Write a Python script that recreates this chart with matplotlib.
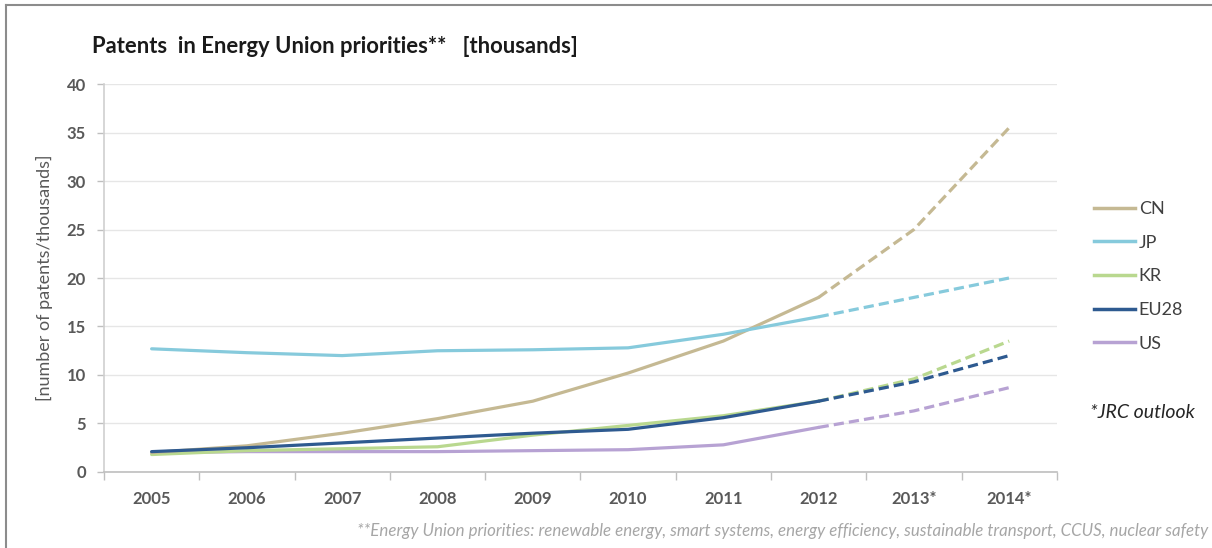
"""Patents in Energy Union priorities, 2005-2014 (JRC outlook for 2013-14)."""

import matplotlib
matplotlib.use("Agg")
import matplotlib.pyplot as plt
from matplotlib.lines import Line2D

plt.rcParams["font.family"] = ["Lato", "DejaVu Sans"]

YEARS = ["2005", "2006", "2007", "2008", "2009", "2010", "2011", "2012", "2013*", "2014*"]
SERIES = ["CN", "JP", "KR", "EU28", "US"]

CN = [2.0, 2.7, 4.0, 5.5, 7.3, 10.2, 13.5, 18.0, 25.0, 35.5]
JP = [12.7, 12.3, 12.0, 12.5, 12.6, 12.8, 14.2, 16.0, 18.0, 20.0]
KR = [1.8, 2.2, 2.4, 2.6, 3.8, 4.8, 5.8, 7.3, 9.6, 13.5]
EU28 = [2.1, 2.5, 3.0, 3.5, 4.0, 4.4, 5.6, 7.3, 9.3, 12.0]
US = [2.0, 2.1, 2.1, 2.1, 2.2, 2.3, 2.8, 4.6, 6.3, 8.7]

COLORS = {
    "CN": "#c5b993",
    "JP": "#86cadc",
    "KR": "#b9d88f",
    "EU28": "#2e5a90",
    "US": "#b7a2d3",
}

# index of last observed year; outlook is dashed from here on
SPLIT = 7


def main() -> None:
    fig = plt.figure(figsize=(12.12, 5.48), dpi=100)
    ax = fig.add_axes([0.0858, 0.1387, 0.7862, 0.708])

    x = list(range(len(YEARS)))
    values = {"CN": CN, "JP": JP, "KR": KR, "EU28": EU28, "US": US}
    # draw back to front so EU28 sits on top like the source
    for name in ["US", "KR", "CN", "JP", "EU28"]:
        y = values[name]
        c = COLORS[name]
        ax.plot(x[: SPLIT + 1], y[: SPLIT + 1], color=c, lw=2.3,
                solid_capstyle="round")
        ax.plot(x[SPLIT:], y[SPLIT:], color=c, lw=2.3, ls=(0, (3.2, 1.6)))

    ax.set_xlim(-0.5, len(YEARS) - 0.5)
    ax.set_ylim(0, 40)
    ax.set_yticks(range(0, 41, 5))
    ax.set_xticks([i - 0.5 for i in range(len(YEARS) + 1)])
    ax.set_xticklabels([])
    ax.set_xticks(x, minor=True)
    ax.set_xticklabels(YEARS, minor=True)
    ax.tick_params(axis="x", which="major", length=6, color="#bfbfbf", width=1)
    ax.tick_params(axis="x", which="minor", length=0, pad=14,
                   labelsize=12, labelcolor="#595959")
    ax.tick_params(axis="y", length=5, color="#bfbfbf", width=1, pad=8,
                   labelsize=12, labelcolor="#595959")
    for lab in ax.get_xticklabels(minor=True) + ax.get_yticklabels():
        lab.set_fontweight("bold")

    ax.grid(axis="y", color="#e6e6e6", lw=1)
    ax.set_axisbelow(True)
    for side in ("top", "right"):
        ax.spines[side].set_visible(False)
    ax.spines["left"].set_color("#d0d0d0")
    ax.spines["bottom"].set_color("#bfbfbf")
    ax.spines["left"].set_linewidth(1.2)
    ax.spines["bottom"].set_linewidth(1.2)

    ax.set_ylabel("[number of patents/thousands]", fontsize=13,
                  color="#595959", labelpad=10)

    fig.text(0.076, 0.915, "Patents  in Energy Union priorities**   [thousands]",
             fontsize=15.8, fontweight="bold", color="#1a1a1a", va="center")

    handles = [Line2D([], [], color=COLORS[s], lw=2.5) for s in SERIES]
    fig.legend(handles, SERIES, loc="upper left", bbox_to_anchor=(0.889, 0.663),
               frameon=False, fontsize=13, labelcolor="#404040",
               handlelength=2.3, handletextpad=0.2, labelspacing=0.98)

    fig.text(0.899, 0.248, "*JRC outlook", fontsize=14, style="italic",
             color="#262626", va="center")

    fig.text(0.997, 0.031,
             "**Energy Union priorities: renewable energy, smart systems, "
             "energy efficiency, sustainable transport, CCUS, nuclear safety",
             fontsize=12.2, style="italic", color="#a6a6a6", ha="right",
             va="center")

    # grey frame on left and top, as in the pasted source
    fig.add_artist(Line2D([0.005, 0.005], [0, 0.99], color="#8c8c8c", lw=1.5,
                          transform=fig.transFigure))
    fig.add_artist(Line2D([0.005, 1.0], [0.99, 0.99], color="#8c8c8c", lw=1.5,
                          transform=fig.transFigure))

    fig.savefig("out.png", dpi=100, facecolor="white")
    plt.close(fig)


if __name__ == "__main__":
    main()
